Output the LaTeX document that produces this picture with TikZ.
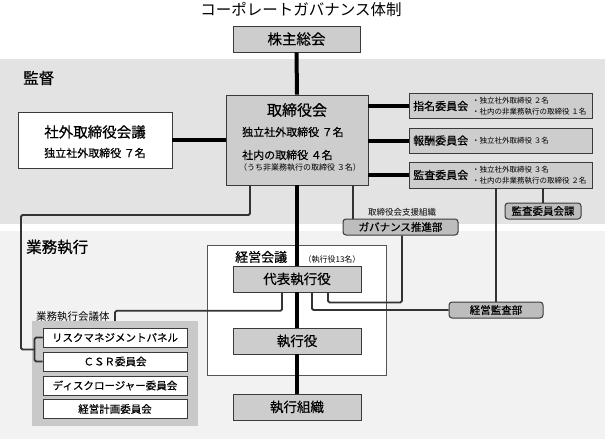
\documentclass[tikz,border=0pt]{standalone}
\usepackage{fontspec}
\setmainfont{Noto Sans CJK JP}
\newfontfamily\medf[FakeBold=0.5]{Noto Sans CJK JP}
\newcommand\fsz[1]{\fontsize{#1}{#1}\selectfont}
\newcommand\fszb[2]{\fontsize{#1}{#2}\selectfont}
\definecolor{bandA}{HTML}{E3E3E3}
\definecolor{bandB}{HTML}{F2F2F2}
\definecolor{boxg}{HTML}{CDCDCD}
\definecolor{rg}{HTML}{BDBDBD}
\definecolor{grpg}{HTML}{C9C9C9}
\definecolor{bord}{HTML}{3A3A3A}
\definecolor{linec}{HTML}{333333}
\definecolor{frameC}{HTML}{555555}
\begin{document}
\begin{tikzpicture}[x=1pt,y=-1pt,
  mainbox/.style={draw=bord, fill=boxg, line width=0.9pt, inner sep=0pt},
  rbox/.style={draw=bord, fill=rg, rounded corners=3pt, line width=1pt, inner sep=0pt},
  wbox/.style={draw=bord, fill=white, line width=0.9pt, inner sep=0pt},
  framebox/.style={draw=frameC, fill=white, line width=0.7pt, inner sep=0pt},
  grp/.style={fill=grpg, inner sep=0pt},
  lbl/.style={inner sep=0pt},
  tline/.style={line width=4pt, draw=black},
  nline/.style={line width=1.8pt, draw=linec, rounded corners=1.5pt},
]
\useasboundingbox (0,0) rectangle (605,439);
% bands
\fill[bandA] (0,59) rectangle (605,224);
\fill[bandB] (0,231) rectangle (605,439);

\node[lbl, font=\fsz{15.5}] (title) at (301,10) {コーポレートガバナンス体制};
\node[lbl, anchor=west, font=\medf\fsz{15.5}] (kantoku) at (23,78) {監督};
\node[lbl, anchor=west, font=\medf\fsz{15.5}] (gyomu) at (26,247) {業務執行};

% frames
\node[framebox, minimum width=179, minimum height=130] (kaigi) at (296.5,310) {};
\node[lbl, anchor=west, font=\medf\fsz{13}] (kaigiL) at (235,257) {経営会議};
\node[lbl, font=\fsz{8}] (kaigiN) at (332,259) {（執行役13名）};
\node[grp, minimum width=166, minimum height=105] (group) at (115,373.5) {};
\node[lbl, anchor=west, font=\fsz{10.5}] (groupL) at (36,317) {業務執行会議体};

% boxes
\node[mainbox, minimum width=127, minimum height=26, font=\medf\fsz{14.5}] (kabu) at (296.5,39) {株主総会};
\node[mainbox, minimum width=142, minimum height=90] (tori) at (297,140) {};
\node[lbl, font=\medf\fsz{15}] (toriT) at (297,110) {取締役会};
\node[lbl, anchor=west, font=\medf\fsz{11}] (toriA) at (242,132) {独立社外取締役 ７名};
\node[lbl, anchor=west, font=\medf\fsz{11}] (toriB) at (242,155) {社内の取締役 ４名};
\node[lbl, anchor=west, font=\fsz{8}] (toriC) at (239,167) {（うち非業務執行の取締役 ３名）};

\node[wbox, minimum width=154, minimum height=56] (shagai) at (95,140) {};
\node[lbl, font=\medf\fsz{14.5}] (shagaiT) at (95,132) {社外取締役会議};
\node[lbl, font=\medf\fsz{11}] (shagaiA) at (95,153) {独立社外取締役 ７名};

\node[mainbox, minimum width=183, minimum height=25] (shimei) at (500.5,105.5) {};
\node[lbl, anchor=west, font=\medf\fsz{11}] (shimeiT) at (413,106) {指名委員会};
\node[lbl, anchor=west, align=left, font=\fszb{7.5}{10.5}] (shimeiD) at (472,106) {・独立社外取締役 ２名\\・社内の非業務執行の取締役 １名};

\node[mainbox, minimum width=183, minimum height=25] (hoshu) at (500.5,140.5) {};
\node[lbl, anchor=west, font=\medf\fsz{11}] (hoshuT) at (413,140.5) {報酬委員会};
\node[lbl, anchor=west, font=\fsz{7.5}] (hoshuD) at (472,140.5) {・独立社外取締役 ３名};

\node[mainbox, minimum width=183, minimum height=26] (kansa) at (500.5,175) {};
\node[lbl, anchor=west, font=\medf\fsz{11}] (kansaT) at (413,175) {監査委員会};
\node[lbl, anchor=west, align=left, font=\fszb{7.5}{10.5}] (kansaD) at (472,175) {・独立社外取締役 ３名\\・社内の非業務執行の取締役 ２名};

\node[lbl, font=\fsz{8.5}] (govL) at (402,212) {取締役会支援組織};
\node[rbox, minimum width=115, minimum height=16, font=\medf\fsz{10.5}] (gov) at (400.5,227) {ガバナンス推進部};
\node[rbox, minimum width=76, minimum height=16, font=\medf\fsz{10.5}] (kansaka) at (543,211) {監査委員会課};
\node[rbox, minimum width=94, minimum height=16, font=\medf\fsz{10.5}] (audit) at (496,310) {経営監査部};

\node[mainbox, minimum width=128, minimum height=26, font=\medf\fsz{13.5}] (daihyo) at (297,279) {代表執行役};
\node[mainbox, minimum width=128, minimum height=26, font=\medf\fsz{13.5}] (shikko) at (297,341) {執行役};
\node[mainbox, minimum width=128, minimum height=26, font=\medf\fsz{13.5}] (soshiki) at (297,407) {執行組織};

\node[wbox, minimum width=144, minimum height=19, font=\medf\fsz{10.5}] (r1) at (115,337.5) {リスクマネジメントパネル};
\node[wbox, minimum width=144, minimum height=19, font=\medf\fsz{10.5}] (r2) at (115,361.5) {ＣＳＲ委員会};
\node[wbox, minimum width=144, minimum height=19, font=\medf\fsz{10.5}] (r3) at (115,385.5) {ディスクロージャー委員会};
\node[wbox, minimum width=144, minimum height=19, font=\medf\fsz{10.5}] (r4) at (115,409) {経営計画委員会};

% thick connectors
\draw[tline] (kabu.south) -- (tori.north);
\draw[tline] (tori.west) -- (shagai.east);
\draw[tline] (shimei.west -| tori.east) -- (shimei.west);
\draw[tline] (hoshu.west -| tori.east) -- (hoshu.west);
\draw[tline] (kansa.west -| tori.east) -- (kansa.west);
\draw[tline] (tori.south) -- (daihyo.north);
\draw[tline] (daihyo.south) -- (shikko.north);
\draw[tline] (shikko.south) -- (soshiki.north);

% thin connectors
\coordinate (gk1) at (21,215);
\coordinate (gk2) at (35,349.5);
\draw[nline] ([xshift=-47pt]tori.south) |- (gk1) |- (gk2);
\draw[nline] ([xshift=-8pt]r1.west) -- (r1.west);
\draw[nline] (r1.west) -- ++(-8,0) -- ++(0,24) -- (r2.west);
\draw[nline] ([xshift=56pt]tori.south) -- ([xshift=56pt]tori.south |- gov.north);
\draw[nline] ([xshift=1.5pt]gov.south) |- ([xshift=31pt,yshift=-10pt]daihyo.south) -- ([xshift=31pt]daihyo.south);
\draw[nline] ([xshift=15pt]daihyo.south) |- (audit.west);
\draw[nline] (kansa.south -| audit.north) -- (audit.north);
\draw[nline] (kansa.south -| kansaka.north) -- (kansaka.north);
\draw[nline] ([xshift=-15pt]daihyo.south) |- ([yshift=10pt]group.north) -- (group.north);
\end{tikzpicture}
\end{document}
